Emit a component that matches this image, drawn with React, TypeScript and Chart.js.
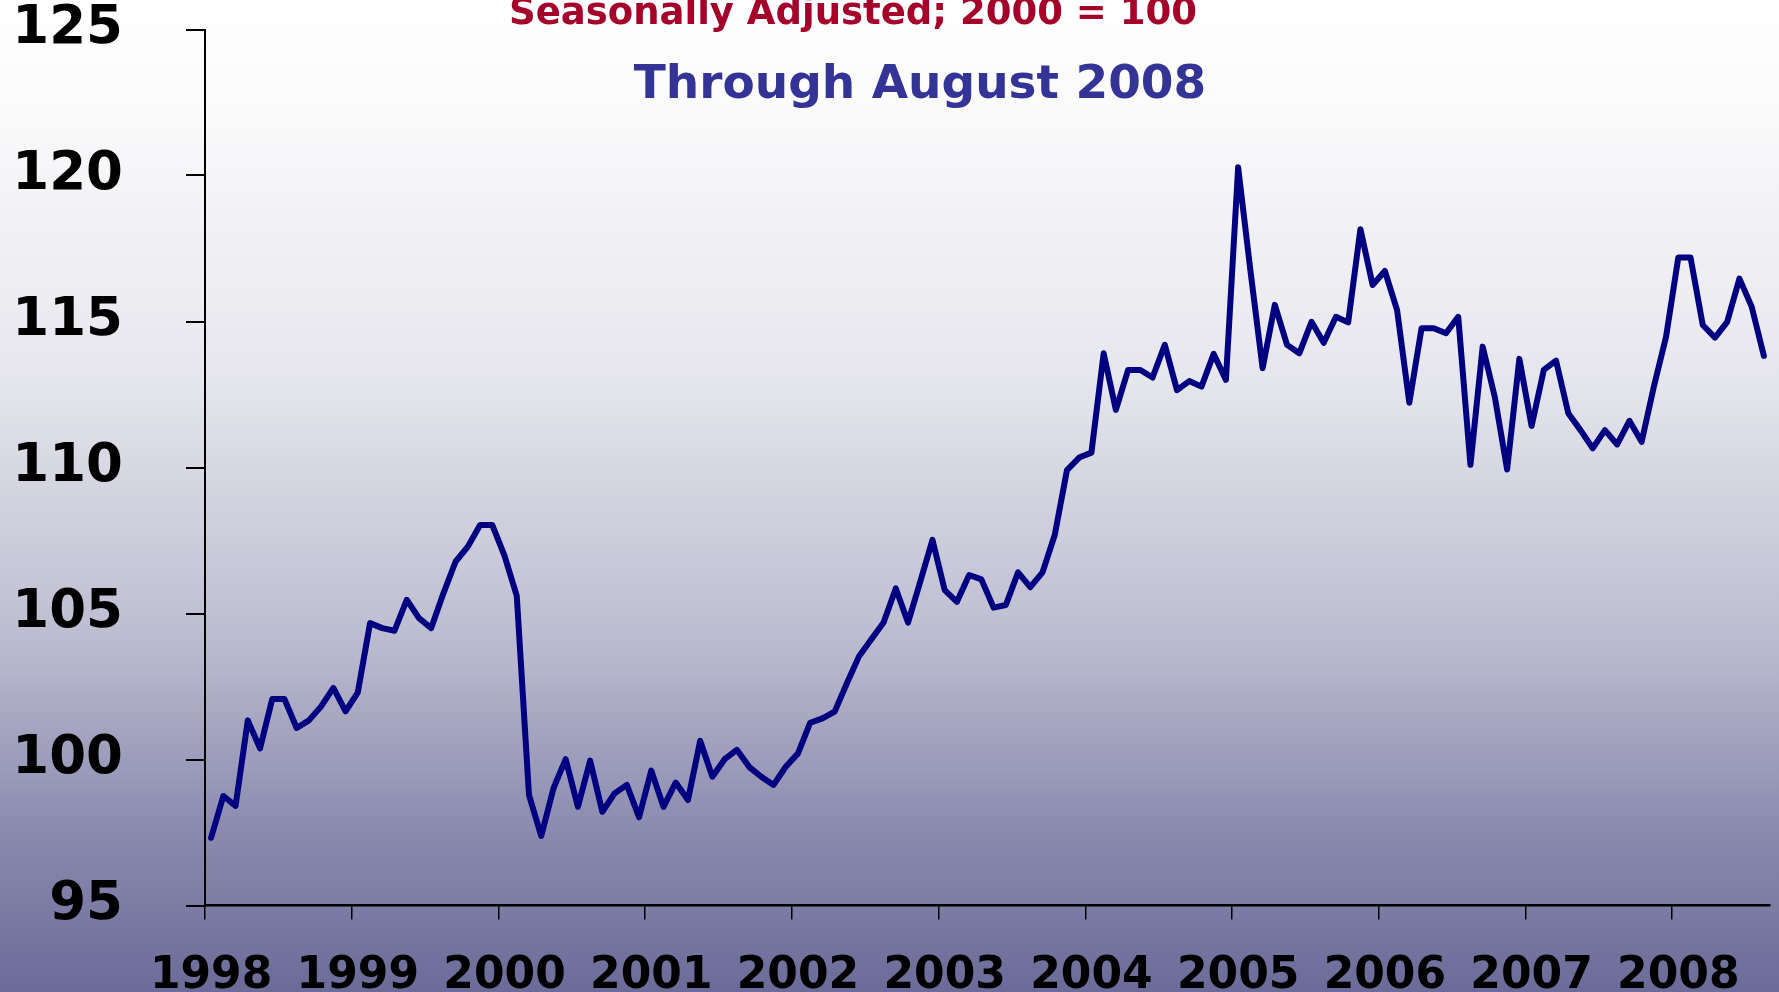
import React, { useEffect, useRef } from "react";
import { Chart, registerables } from "chart.js";

Chart.register(...registerables);

const years = ["1998", "1999", "2000", "2001", "2002", "2003", "2004", "2005", "2006", "2007", "2008"];

const v1998 = [97.32, 98.75, 98.41, 101.34, 100.38, 102.07, 102.07, 101.08, 101.34, 101.82, 102.45, 101.65];
const v1999 = [102.3, 104.67, 104.5, 104.41, 105.47, 104.84, 104.5, 105.69, 106.78, 107.29, 108.03, 108.03];
const v2000 = [106.97, 105.6, 98.78, 97.38, 99.01, 100.01, 98.38, 99.96, 98.21, 98.84, 99.13, 98.02];
const v2001 = [99.62, 98.38, 99.21, 98.61, 100.64, 99.41, 100.01, 100.33, 99.75, 99.41, 99.13, 99.75];
const v2002 = [100.21, 101.26, 101.41, 101.64, 102.61, 103.54, 104.12, 104.69, 105.86, 104.69, 106.09, 107.52];
const v2003 = [105.8, 105.4, 106.32, 106.17, 105.2, 105.29, 106.41, 105.9, 106.41, 107.69, 109.91, 110.34];
const v2004 = [110.51, 113.91, 111.97, 113.34, 113.34, 113.08, 114.2, 112.65, 112.96, 112.77, 113.89, 113.0];
const v2005 = [120.28, 116.76, 113.4, 115.57, 114.2, 113.91, 114.99, 114.27, 115.16, 114.97, 118.16, 116.25];
const v2006 = [116.73, 115.39, 112.22, 114.77, 114.77, 114.6, 115.16, 110.09, 114.14, 112.4, 109.93, 113.72];
const v2007 = [111.42, 113.34, 113.66, 111.86, 111.28, 110.66, 111.28, 110.79, 111.6, 110.88, 112.77, 114.48];
const v2008 = [117.19, 117.19, 114.88, 114.45, 114.99, 116.47, 115.51, 113.82];

const yearValues = [v1998, v1999, v2000, v2001, v2002, v2003, v2004, v2005, v2006, v2007, v2008];

const yMin = 95;
const yMax = 125;
const yStep = 5;

const titleText = "Seasonally Adjusted; 2000 = 100";
const subtitleText = "Through August 2008";

const FONT = "'DejaVu Sans', Verdana, sans-serif";

export default function App() {
  const canvasRef = useRef<HTMLCanvasElement | null>(null);

  useEffect(() => {
    const canvas = canvasRef.current;
    if (!canvas) return;

    const labels: string[] = [];
    const data: number[] = [];
    years.forEach((y, yi) => {
      yearValues[yi].forEach((v, mi) => {
        labels.push(mi === 0 ? y : "");
        data.push(v);
      });
    });

    const bgPlugin = {
      id: "bg",
      beforeDraw(chart: any) {
        const ctx = chart.ctx;
        const h = chart.height;
        const g = ctx.createLinearGradient(0, 0, 0, h);
        g.addColorStop(0, "#ffffff");
        g.addColorStop(0.1, "#fbfbfc");
        g.addColorStop(0.38, "#e6e6ed");
        g.addColorStop(0.64, "#bdbdd1");
        g.addColorStop(0.83, "#8c8cb0");
        g.addColorStop(1, "#6b6b99");
        ctx.save();
        ctx.fillStyle = g;
        ctx.fillRect(0, 0, chart.width, h);
        ctx.restore();
      },
    };

    const titlePlugin = {
      id: "titles",
      afterDraw(chart: any) {
        const ctx = chart.ctx;
        ctx.save();
        ctx.textAlign = "center";
        ctx.textBaseline = "alphabetic";
        ctx.fillStyle = "#a5002a";
        ctx.font = `bold 37px ${FONT}`;
        ctx.fillText(titleText, 853, 24);
        ctx.fillStyle = "#343497";
        ctx.font = `bold 47px ${FONT}`;
        ctx.fillText(subtitleText, 920, 98);
        ctx.restore();
      },
    };

    const chart = new Chart(canvas, {
      type: "line",
      data: {
        labels,
        datasets: [
          {
            data,
            borderColor: "#000080",
            borderWidth: 6,
            pointRadius: 0,
            tension: 0,
            borderJoinStyle: "round",
            borderCapStyle: "round",
            fill: false,
          },
        ],
      },
      options: {
        responsive: false,
        animation: false,
        layout: { padding: { top: 0, right: 9, left: 0, bottom: 0 } },
        plugins: { legend: { display: false }, tooltip: { enabled: false }, title: { display: false } },
        scales: {
          x: {
            type: "category",
            offset: true,
            grid: {
              offset: true,
              drawOnChartArea: false,
              drawTicks: true,
              tickLength: 14,
              lineWidth: 1.5,
              color: (ctx: any) => (ctx.index % 12 === 0 ? "#000000" : "rgba(0,0,0,0)"),
            },
            border: { display: true, color: "#000000", width: 2.5 },
            ticks: {
              autoSkip: false,
              maxRotation: 0,
              minRotation: 0,
              padding: 35,
              color: "#000000",
              font: { family: FONT, size: 44, weight: "bold", lineHeight: 1.0 },
            },
            afterFit(scale: any) {
              scale.height = 86.5;
              scale.paddingLeft = 0;
              scale.paddingRight = 0;
            },
          },
          y: {
            min: yMin,
            max: yMax,
            ticks: {
              stepSize: yStep,
              padding: 63,
              color: "#000000",
              font: { family: FONT, size: 53, weight: "bold", lineHeight: 1.0 },
            },
            grid: {
              drawOnChartArea: false,
              drawTicks: true,
              tickLength: 19,
              lineWidth: 2,
              color: "#000000",
            },
            border: { display: true, color: "#000000", width: 2 },
            afterFit(scale: any) {
              scale.width = 205;
              scale.paddingTop = 29.5;
              scale.paddingBottom = 0;
            },
          },
        },
      },
      plugins: [bgPlugin, titlePlugin],
    } as any);

    return () => chart.destroy();
  }, []);

  return (
    <div style={{ position: "fixed", left: 0, top: 0, width: 1779, height: 992, overflow: "hidden" }}>
      <canvas ref={canvasRef} width={1779} height={992} style={{ display: "block", width: 1779, height: 992 }} />
    </div>
  );
}
